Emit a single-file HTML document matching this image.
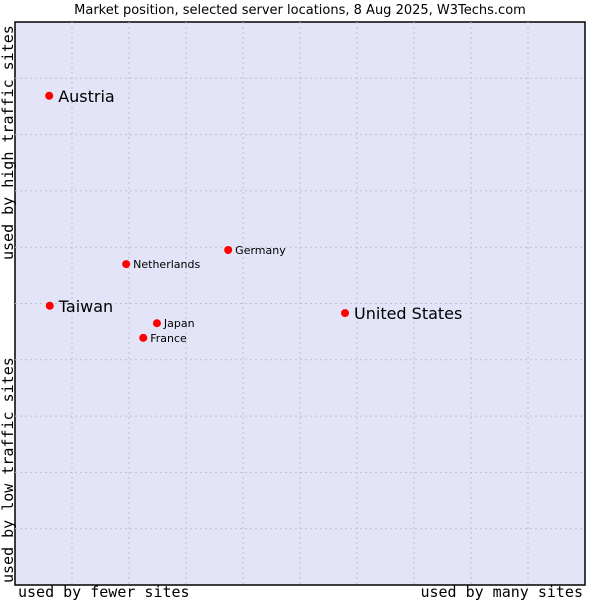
<!DOCTYPE html>
<html><head><meta charset="utf-8"><style>
body{margin:0;background:#fff;}
svg text{font-family:"DejaVu Sans","Liberation Sans",sans-serif;fill:#000;}
.mono{font-family:"DejaVu Sans Mono","Liberation Mono",monospace;font-size:15px;}
</style></head><body>
<svg id="chart" width="600" height="600">
<text x="300" y="14" text-anchor="middle" font-size="13">Market position, selected server locations, 8 Aug 2025, W3Techs.com</text>
<rect x="15" y="22" width="570" height="563" fill="#e3e4f8" stroke="#000" stroke-width="1.5"/>
<g id="grid"></g>
<g id="points"></g>
<text class="mono" x="18" y="597">used by fewer sites</text>
<text class="mono" x="583" y="597" text-anchor="end">used by many sites</text>
<text class="mono" transform="translate(13,583) rotate(-90)">used by low traffic sites</text>
<text class="mono" transform="translate(13,260) rotate(-90)">used by high traffic sites</text>
</svg>
<script>
const names=["Austria","Taiwan","United States","Germany","Netherlands","Japan","France"];
const xVals=[6.0,6.1,57.9,37.4,19.5,24.9,22.5];
const yVals=[86.9,49.6,48.3,59.5,57.0,46.5,43.9];
const bigLabel=[true,true,true,false,false,false,false];
const gridSteps=[1,2,3,4,5,6,7,8,9];
const NS="http://www.w3.org/2000/svg";
const X0=15,X1=585,Y0=585,Y1=22;
const sx=v=>X0+v/100*(X1-X0);
const sy=v=>Y0-v/100*(Y0-Y1);
const grid=document.getElementById('grid');
gridSteps.forEach(i=>{
  const v=document.createElementNS(NS,'line');
  v.setAttribute('x1',sx(i*10));v.setAttribute('x2',sx(i*10));v.setAttribute('y1',Y1);v.setAttribute('y2',Y0);
  v.setAttribute('stroke','#c0c0c8');v.setAttribute('stroke-dasharray','2,3');
  
  
  grid.appendChild(v);
  const h=document.createElementNS(NS,'line');
  h.setAttribute('y1',sy(i*10));h.setAttribute('y2',sy(i*10));h.setAttribute('x1',X0);h.setAttribute('x2',X1);
  h.setAttribute('stroke','#c0c0c8');h.setAttribute('stroke-dasharray','2,3');
  
  
  grid.appendChild(h);
});
const pts=document.getElementById('points');
names.forEach((n,i)=>{
  const x=sx(xVals[i]),y=sy(yVals[i]);
  const c=document.createElementNS(NS,'circle');
  c.setAttribute('cx',x);c.setAttribute('cy',y);c.setAttribute('r',4);c.setAttribute('fill','#f00');
  
  
  pts.appendChild(c);
  const t=document.createElementNS(NS,'text');
  const big=bigLabel[i];
  t.setAttribute('x',x+(big?9:7));t.setAttribute('y',y+(big?6:4));
  t.setAttribute('font-size',big?16:11);
  t.textContent=n;
  
  
  pts.appendChild(t);
});
</script>
</body></html>
